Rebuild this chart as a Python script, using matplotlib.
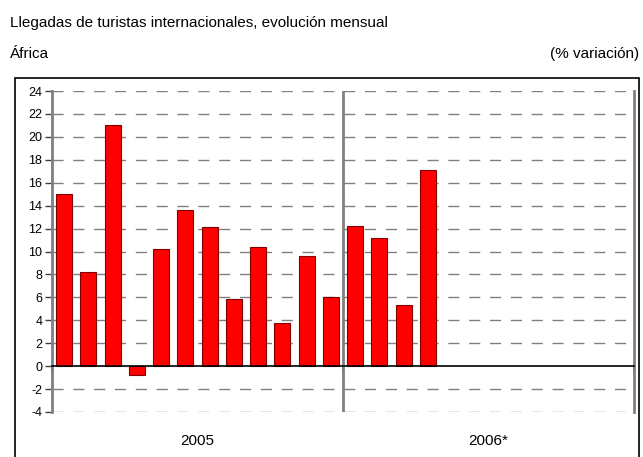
import matplotlib.pyplot as plt
from matplotlib.patches import Rectangle

plt.rcParams['font.family'] = ['Liberation Sans Narrow', 'Liberation Sans', 'DejaVu Sans']
plt.rcParams['axes.unicode_minus'] = False

# monthly % change, Jan 2005 .. Apr 2006
valores = [15.0, 8.2, 21.0, -0.8, 10.2, 13.6, 12.1, 5.9, 10.4, 3.8, 9.6, 6.0,
           12.2, 11.2, 5.3, 17.1]
anios = ['2005', '2006*']
yticks = list(range(-4, 25, 2))
meses_por_anio = 12

W, H = 643, 457
fig = plt.figure(figsize=(W / 100, H / 100), dpi=100)

# outer frame
fig.patches.append(Rectangle((15 / W, -0.01), (639 - 15) / W, (H - 78) / H + 0.01,
                             transform=fig.transFigure, fill=False,
                             edgecolor='black', linewidth=1.2))

fig.text(10 / W, 1 - 27 / H, 'Llegadas de turistas internacionales, evolución mensual',
         fontsize=11, ha='left', va='baseline')
fig.text(10 / W, 1 - 58 / H, 'África', fontsize=11, ha='left', va='baseline')
fig.text(639 / W, 1 - 58 / H, '(% variación)', fontsize=11, ha='right', va='baseline')

ax = fig.add_axes([52 / W, 1 - 412 / H, (634 - 52) / W, (412 - 91) / H])

x = [i + 0.5 for i in range(len(valores))]
ax.bar(x, valores, width=0.66, color='#ff0000', edgecolor='#800000', linewidth=0.8, zorder=3)

ax.set_xlim(0, 2 * meses_por_anio)
ax.set_ylim(-4, 24)
ax.set_yticks(yticks)
ax.tick_params(axis='y', direction='out', length=5, width=1, color='#404040',
               labelsize=9, pad=2)

for v in yticks:
    if v != 0:
        ax.axhline(v, color='#808080', linewidth=1, dashes=(8, 7), zorder=1)

ax.axvline(meses_por_anio, color='#808080', linewidth=2, zorder=2)

ax.spines['top'].set_visible(False)
ax.spines['left'].set_color('#808080')
ax.spines['left'].set_linewidth(2)
ax.spines['right'].set_color('#808080')
ax.spines['right'].set_linewidth(2)
ax.spines['bottom'].set_position(('data', 0))
ax.spines['bottom'].set_color('black')
ax.spines['bottom'].set_linewidth(1.2)
ax.spines['bottom'].set_zorder(4)
ax.set_xticks([0, meses_por_anio, 2 * meses_por_anio])
ax.set_xticklabels([])
ax.tick_params(axis='x', direction='out', length=4, width=1.2, color='black')

for i, a in enumerate(anios):
    ax.text(meses_por_anio * (i + 0.5), -6.9, a, fontsize=11, ha='center', va='baseline')

fig.savefig('out.png', dpi=100)
